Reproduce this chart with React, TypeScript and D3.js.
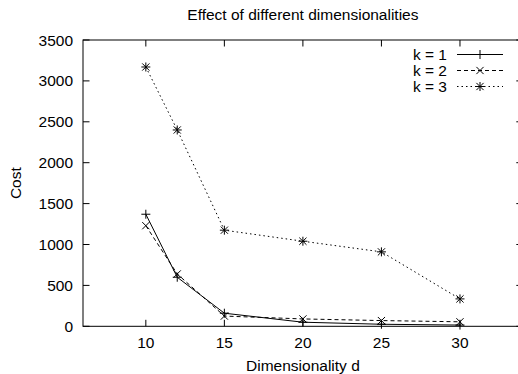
import React from "react";
import * as d3 from "d3";

const dims = [10, 12, 15, 20, 25, 30];
const k1 = [1370, 600, 160, 50, 25, 15];
const k2 = [1230, 640, 125, 90, 70, 55];
const k3 = [3170, 2400, 1175, 1040, 910, 335];
const xTicks = [10, 15, 20, 25, 30];
const yTicks = [0, 500, 1000, 1500, 2000, 2500, 3000, 3500];
const seriesNames = ["k = 1", "k = 2", "k = 3"];

const W = 518, H = 374;
const left = 83, right = 522.8, top = 40, bottom = 326.3;
const FONT = "'Liberation Sans', Arial, Helvetica, sans-serif";
const FS = 15.5;

function Marker({ type, x, y }: { type: number; x: number; y: number }) {
  const s = 4.5;
  const plus = <path d={`M${x - s},${y}H${x + s}M${x},${y - s}V${y + s}`} />;
  const cross = <path d={`M${x - s * 0.8},${y - s * 0.8}L${x + s * 0.8},${y + s * 0.8}M${x - s * 0.8},${y + s * 0.8}L${x + s * 0.8},${y - s * 0.8}`} />;
  return (
    <g stroke="#000" strokeWidth={1} fill="none">
      {(type === 0 || type === 2) && plus}
      {(type === 1 || type === 2) && cross}
    </g>
  );
}

export default function App() {
  const x = d3.scaleLinear().domain([6, 34]).range([left, right]);
  const y = d3.scaleLinear().domain([0, 3500]).range([bottom, top]);
  const line = d3.line<[number, number]>().x(d => x(d[0])).y(d => y(d[1]));
  const series = [k1, k2, k3];
  const dashes = ["none", "4,3", "1.5,3"];
  const tl = 6.5;
  return (
    <svg width={W} height={H} style={{ position: "absolute", left: 0, top: 0 }} fontFamily={FONT}>
      <rect width={W} height={H} fill="#fff" />
      <text x={(left + right) / 2} y={20} textAnchor="middle" fontSize={FS}>Effect of different dimensionalities</text>
      <rect x={left} y={top} width={right - left} height={bottom - top} fill="none" stroke="#000" strokeWidth={1} />
      {yTicks.map(t => (
        <g key={"y" + t}>
          <line x1={left} x2={left + tl} y1={y(t)} y2={y(t)} stroke="#000" />
          <line x1={right} x2={right - tl} y1={y(t)} y2={y(t)} stroke="#000" />
          <text x={73} y={y(t) + 5.5} textAnchor="end" fontSize={FS}>{t}</text>
        </g>
      ))}
      {xTicks.map(t => (
        <g key={"x" + t}>
          <line x1={x(t)} x2={x(t)} y1={bottom} y2={bottom - tl} stroke="#000" />
          <line x1={x(t)} x2={x(t)} y1={top} y2={top + tl} stroke="#000" />
          <text x={x(t)} y={348} textAnchor="middle" fontSize={FS}>{t}</text>
        </g>
      ))}
      <text x={(left + right) / 2} y={371} textAnchor="middle" fontSize={FS}>Dimensionality d</text>
      <text transform={`translate(20.5,${(top + bottom) / 2}) rotate(-90)`} textAnchor="middle" fontSize={FS}>Cost</text>
      {series.map((vals, i) => {
        const pts = dims.map((d, j) => [d, vals[j]] as [number, number]);
        return (
          <g key={"s" + i}>
            <path d={line(pts) || ""} fill="none" stroke="#000" strokeWidth={1} strokeDasharray={dashes[i]} />
            {pts.map((p, j) => <Marker key={j} type={i} x={x(p[0])} y={y(p[1])} />)}
          </g>
        );
      })}
      {seriesNames.map((n, i) => {
        const ly = 54.5 + i * 16;
        return (
          <g key={"l" + i}>
            <text x={447} y={ly + 5.5} textAnchor="end" fontSize={FS}>{n}</text>
            <line x1={457} x2={503} y1={ly} y2={ly} stroke="#000" strokeDasharray={dashes[i]} />
            <Marker type={i} x={480} y={ly} />
          </g>
        );
      })}
    </svg>
  );
}
